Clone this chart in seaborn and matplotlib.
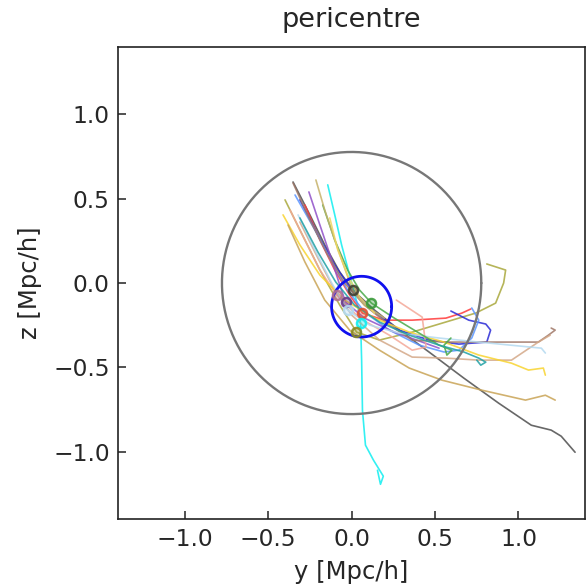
import numpy as np
import pandas as pd
import matplotlib
matplotlib.use("Agg")
import matplotlib.pyplot as plt
import seaborn as sns

# ---- data: trajectories (y, z) in Mpc/h ----
t_gray_y = [-0.351, -0.25, -0.161, -0.071, 0.018, 0.137, 0.286, 0.464, 0.673, 0.881, 1.077, 1.196, 1.256, 1.339]
t_gray_z = [0.599, 0.404, 0.226, 0.065, -0.053, -0.160, -0.279, -0.409, -0.564, -0.712, -0.843, -0.872, -0.908, -1.003]

t_olive_y = [-0.399, -0.310, -0.190, -0.071, 0.030, 0.167, 0.363, 0.565, 0.744, 0.863, 0.911, 0.923, 0.810]
t_olive_z = [0.493, 0.315, 0.077, -0.131, -0.291, -0.338, -0.291, -0.231, -0.178, -0.119, 0.0, 0.077, 0.113]

t_cyan_y = [-0.143, -0.101, -0.060, -0.012, 0.036, 0.054, 0.060, 0.065, 0.083, 0.131, 0.190, 0.173, 0.155]
t_cyan_z = [0.582, 0.404, 0.226, 0.047, -0.131, -0.237, -0.457, -0.754, -0.961, -1.050, -1.145, -1.193, -1.110]

t_red_y = [-0.280, -0.190, -0.101, -0.012, 0.065, 0.196, 0.363, 0.565, 0.661, 0.714]
t_red_z = [0.463, 0.255, 0.077, -0.071, -0.178, -0.220, -0.220, -0.208, -0.178, -0.154]

t_blue_y = [-0.310, -0.202, -0.101, 0.0, 0.137, 0.286, 0.464, 0.643, 0.810, 0.833, 0.804, 0.702, 0.595]
t_blue_z = [0.493, 0.285, 0.107, -0.042, -0.172, -0.279, -0.338, -0.362, -0.350, -0.279, -0.243, -0.220, -0.166]

t_lblue_y = [-0.339, -0.220, -0.119, -0.024, 0.077, 0.226, 0.405, 0.554, 0.643, 0.720, 0.762, 0.720]
t_lblue_z = [0.522, 0.315, 0.125, -0.042, -0.172, -0.279, -0.368, -0.409, -0.398, -0.326, -0.220, -0.148]

t_purple_y = [-0.256, -0.190, -0.119, -0.071, -0.036, 0.077, 0.256, 0.524]
t_purple_z = [0.540, 0.344, 0.136, -0.012, -0.113, -0.208, -0.291, -0.386]

t_brown_y = [-0.351, -0.250, -0.143, -0.042, 0.077, 0.226, 0.363, 0.565, 0.762, 1.119, 1.179, 1.220, 1.196]
t_brown_z = [0.593, 0.374, 0.166, 0.0, -0.131, -0.249, -0.338, -0.350, -0.350, -0.350, -0.309, -0.279, -0.267]

t_salmon_y = [-0.369, -0.280, -0.190, -0.089, 0.048, 0.226, 0.363, 0.446, 0.423, 0.268]
t_salmon_z = [0.433, 0.255, 0.077, -0.071, -0.208, -0.309, -0.398, -0.380, -0.202, -0.101]

t_tan_y = [-0.310, -0.202, -0.101, 0.0, 0.167, 0.363, 0.565, 0.762, 0.958, 1.119, 1.190]
t_tan_z = [0.362, 0.148, -0.042, -0.190, -0.338, -0.439, -0.445, -0.457, -0.457, -0.350, -0.309]

t_yellow_y = [-0.411, -0.310, -0.190, -0.042, 0.137, 0.345, 0.554, 0.762, 0.958, 1.060, 1.149, 1.161]
t_yellow_z = [0.404, 0.226, 0.047, -0.101, -0.208, -0.291, -0.350, -0.427, -0.475, -0.516, -0.504, -0.546]

t_gold_y = [-0.381, -0.280, -0.161, -0.012, 0.167, 0.345, 0.542, 0.780, 1.042, 1.161, 1.220]
t_gold_z = [0.344, 0.125, -0.101, -0.279, -0.398, -0.504, -0.576, -0.635, -0.694, -0.665, -0.694]

t_pale_y = [-0.321, -0.220, -0.119, -0.024, 0.107, 0.286, 0.524, 0.762, 1.137, 1.161]
t_pale_z = [0.404, 0.196, 0.0, -0.160, -0.249, -0.297, -0.326, -0.350, -0.386, -0.415]

t_green_y = [-0.173, -0.101, -0.024, 0.048, 0.119, 0.256, 0.405, 0.524, 0.601, 0.571, 0.554, 0.595]
t_green_z = [0.463, 0.255, 0.077, -0.042, -0.119, -0.208, -0.297, -0.368, -0.398, -0.427, -0.368, -0.326]

t_teal_y = [-0.310, -0.202, -0.095, 0.018, 0.167, 0.345, 0.524, 0.673, 0.762, 0.804, 0.774, 0.750]
t_teal_z = [0.386, 0.184, 0.006, -0.131, -0.231, -0.309, -0.368, -0.409, -0.445, -0.469, -0.487, -0.457]

t_khaki_y = [-0.214, -0.161, -0.101, -0.042, 0.006, 0.077, 0.196]
t_khaki_z = [0.611, 0.433, 0.255, 0.089, -0.042, -0.131, -0.208]

t_yel2_y = [-0.131, -0.083, -0.024, 0.048, 0.137]
t_yel2_z = [0.386, 0.196, 0.047, -0.083, -0.178]

traj_names = ["gray", "olive", "cyan", "red", "blue", "lblue", "purple", "brown", "salmon",
              "tan", "yellow", "gold", "pale", "green", "teal", "khaki", "yel2"]
traj_y = [t_gray_y, t_olive_y, t_cyan_y, t_red_y, t_blue_y, t_lblue_y, t_purple_y, t_brown_y, t_salmon_y,
          t_tan_y, t_yellow_y, t_gold_y, t_pale_y, t_green_y, t_teal_y, t_khaki_y, t_yel2_y]
traj_z = [t_gray_z, t_olive_z, t_cyan_z, t_red_z, t_blue_z, t_lblue_z, t_purple_z, t_brown_z, t_salmon_z,
          t_tan_z, t_yellow_z, t_gold_z, t_pale_z, t_green_z, t_teal_z, t_khaki_z, t_yel2_z]
traj_colors = ["#4d4d4d", "#a9a83c", "#10eef0", "#ff3a3a", "#2a2ad6", "#5a96ff", "#9050c8", "#a07868", "#f4a898",
               "#d4a888", "#f8d430", "#c9a456", "#b4daf0", "#48a848", "#20a0a4", "#c6b26a", "#f0d860"]

# pericentre points
peri_names = ["khaki", "salmon", "purple", "pale", "green", "red", "cyan", "olive"]
peri_y = [0.006, -0.089, -0.036, -0.024, 0.119, 0.065, 0.054, 0.024]
peri_z = [-0.042, -0.071, -0.113, -0.160, -0.119, -0.178, -0.237, -0.291]
peri_colors = ["#404030", "#b07090", "#6a3a8a", "#b4daf0", "#3a9a3a", "#e05030", "#10eef0", "#8a8a20"]

# reference circles
big_r = 0.777
small_cy, small_cz, small_r = 0.06, -0.14, 0.18

rows = []
for n, ys, zs in zip(traj_names, traj_y, traj_z):
    for i, (a, b) in enumerate(zip(ys, zs)):
        rows.append({"traj": n, "y": a, "z": b, "order": i})
df = pd.DataFrame(rows)

sns.set_style("white")
plt.rcParams["font.family"] = ["DejaVu Sans"]
plt.rcParams["xtick.direction"] = "in"
plt.rcParams["ytick.direction"] = "in"

fig = plt.figure(figsize=(5.87, 5.86), dpi=100)
ax = fig.add_axes([0.201, 0.114, 0.796, 0.806])

sns.lineplot(data=df, x="y", y="z", hue="traj", palette=dict(zip(traj_names, traj_colors)),
             sort=False, estimator=None, units="traj", legend=False, linewidth=1.2, alpha=0.85, ax=ax)

theta = np.linspace(0, 2 * np.pi, 400)
ax.plot(big_r * np.cos(theta), big_r * np.sin(theta), color="#777777", lw=1.7)
ax.plot(small_cy + small_r * np.cos(theta), small_cz + small_r * np.sin(theta), color="#1010ee", lw=2.0)

for n, a, b, c in zip(peri_names, peri_y, peri_z, peri_colors):
    ax.plot([a], [b], marker="o", ms=6.5, mfc=matplotlib.colors.to_rgba(c, 0.35),
            mec=matplotlib.colors.to_rgba(c, 0.9), mew=1.8, ls="none")

ax.set_xlim(-1.4, 1.4)
ax.set_ylim(-1.4, 1.4)
ax.set_xticks([-1.0, -0.5, 0.0, 0.5, 1.0])
ax.set_yticks([-1.0, -0.5, 0.0, 0.5, 1.0])
ax.tick_params(axis="both", labelsize=16.8, length=6, width=1.1, color="#222222", top=False, right=False,
               left=True, bottom=True, pad=6)
for s in ax.spines.values():
    s.set_color("#222222")
    s.set_linewidth(1.2)
    s.set_visible(True)
ax.set_xlabel("y [Mpc/h]", fontsize=17.5, labelpad=7)
ax.set_ylabel("z [Mpc/h]", fontsize=17.5, labelpad=8)
ax.set_title("pericentre", fontsize=19.5, pad=14)

fig.savefig("out.png", dpi=100)
